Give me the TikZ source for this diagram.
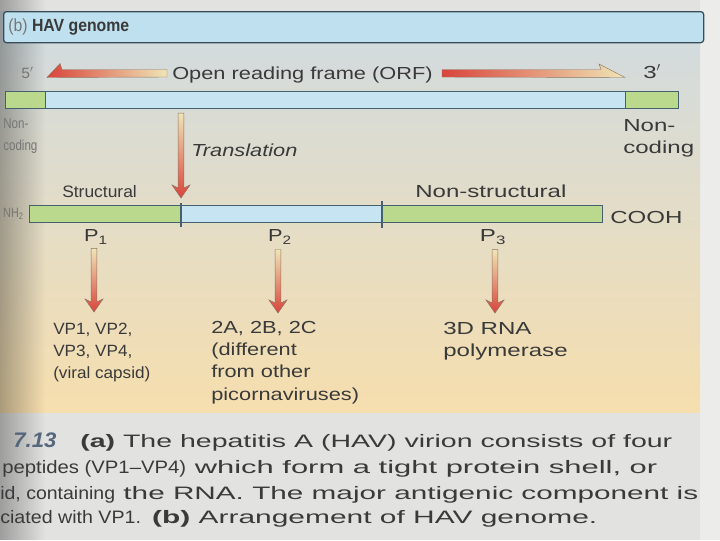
\documentclass[tikz,border=0pt]{standalone}
\usepackage{fontspec}
\setmainfont{Liberation Sans}[FakeStretch=1.25]
\newfontfamily\leftsf{Liberation Sans}[FakeStretch=1.05]
\newfontfamily\titlesf{Liberation Sans}[FakeStretch=0.9]
\newfontfamily\narrowsf{Liberation Sans}[FakeStretch=0.8]
\newfontfamily\widesf{Liberation Sans}[FakeStretch=1.38]
\newfontfamily\capsf{Liberation Sans}[FakeStretch=1.6]
\usetikzlibrary{positioning, calc, fadings}

\definecolor{pagegray}{HTML}{E2E3E1}
\definecolor{pagelight}{HTML}{ECEDEB}
\definecolor{panelblue}{HTML}{D0DBE1}
\definecolor{panelmid}{HTML}{DCDDD6}
\definecolor{panelpeach}{HTML}{F6DEAE}
\definecolor{headblue}{HTML}{BFE0EE}
\definecolor{barblue}{HTML}{C6E4F1}
\definecolor{bargreen}{HTML}{BAD98C}
\definecolor{barline}{HTML}{46606F}
\definecolor{arrred}{HTML}{D9443B}
\definecolor{arrpale}{HTML}{EFE5B5}
\definecolor{arrline}{HTML}{8C7462}
\definecolor{inkgray}{HTML}{3A3A3A}
\definecolor{softgray}{HTML}{767674}
\definecolor{figblue}{HTML}{56677C}

\newlength\pxu
\setlength\pxu{0.025cm}
\newcommand\mainsz{\fontsize{12.4}{15.8}\selectfont}
\newcommand\capsz{\fontsize{12.8}{18}\selectfont}
\newcommand\fitto[2]{\resizebox{#1\pxu}{\height}{#2}}
\newcommand\fatdown[2]{%
  \path (#1) coordinate (fat-a) (#2) coordinate (fat-b);
  \shadedraw[fatarrow] ($(fat-a)+(-2.8,0)$) -- ($(fat-a)+(2.8,0)$)
    -- ($(fat-a|-fat-b)+(2.8,-10)$) -- ($(fat-a|-fat-b)+(9,-13)$)
    -- (fat-a|-fat-b) -- ($(fat-a|-fat-b)+(-9,-13)$)
    -- ($(fat-a|-fat-b)+(-2.8,-10)$) -- cycle;}
\tikzfading[name=fade right, left color=transparent!0, right color=transparent!100]

\begin{document}
\begin{tikzpicture}[x=0.025cm, y=-0.025cm,
  seg/.style={rectangle, draw=barline, line width=0.6pt, minimum height=17\pxu, inner sep=0pt, outer sep=0pt, anchor=west},
  greenseg/.style={seg, fill=bargreen},
  blueseg/.style={seg, fill=barblue},
  lbl/.style={inner sep=0pt, text=inkgray, font=\mainsz, align=left},
  faint/.style={lbl, text=softgray},
  caption/.style={lbl, font=\capsf\capsz, anchor=base west},
  fatarrow/.style={top color=arrpale, bottom color=arrred, draw=arrline, line width=0.35pt},
  orfarrow/.style={left color=arrred, right color=arrpale, draw=arrline, line width=0.3pt},
  tick/.style={draw=barline, line width=0.8pt}
]
\useasboundingbox (0,0) rectangle (720,540);
% page and panel
\fill[pagegray] (0,0) rectangle (720,540);
\fill[pagelight] (700,0) rectangle (720,540);
\shade[top color=panelblue, middle color=panelmid, bottom color=panelpeach] (0,11) rectangle (700,412);
\fill[black, opacity=0.3, path fading=fade right] (0,0) rectangle (45,540);

\node[draw=barline!80!black, line width=0.9pt, rounded corners=2pt, fill=headblue, minimum width=700\pxu, minimum height=31\pxu, inner sep=0pt, anchor=north west] (head) at (3,11) {};
\node[lbl, font=\titlesf\fontsize{12.5}{14}\selectfont, anchor=base west] (title) at (8,31.5) {\textcolor{softgray}{(b)} \textbf{HAV genome}};

% genome
\node[greenseg, minimum width=40\pxu] (nc5) at (5,99.5) {};
\node[blueseg, minimum width=580\pxu] (orfbar) at (nc5.east) {};
\node[greenseg, minimum width=53\pxu] (nc3) at (orfbar.east) {};

\node[faint, font=\leftsf\fontsize{10.6}{12}\selectfont, anchor=base west] (five) at (21,78) {5$'$};
\node[lbl, anchor=base west] (orf) at (172,79.5) {Open reading frame (ORF)};
\node[lbl, font=\widesf\mainsz, anchor=base west] (three) at (643,78) {3$'$};

\coordinate (ltip) at ($(orf.base west -| nc5.east)+(2,-2)$);
\coordinate (rtip) at ($(orf.base east -| orfbar.east)+(0,-2)$);
\shadedraw[orfarrow] ($(orf.base west)+(-5,-10)$) -- ($(ltip)+(15,-8)$) -- ($(ltip)+(13,-14)$) -- (ltip) -- ($(orf.base west)+(-5,-2.5)$) -- cycle;
\shadedraw[orfarrow] ($(orf.base east)+(9,-10)$) -- ($(rtip)+(-24,-8)$) -- ($(rtip)+(-26,-13.5)$) -- (rtip) -- ($(orf.base east)+(9,-2.5)$) -- cycle;

\node[faint, font=\narrowsf\fontsize{10.3}{15.6}\selectfont, anchor=north west] (nc5lbl) at ($(nc5.south west)+(-2,10)$) {Non-\\coding};
\node[lbl, font=\widesf\mainsz, anchor=north west] (nc3lbl) at ($(nc3.south west)+(-2,11)$) {Non-\\coding};

% polyprotein
\node[greenseg, minimum width=152\pxu] (p1seg) at (29,213.5) {};
\node[blueseg, minimum width=201\pxu] (p2seg) at (p1seg.east) {};
\node[greenseg, minimum width=220\pxu] (p3seg) at (p2seg.east) {};
\draw[tick] ($(p1seg.north east)+(0,-2)$) -- ($(p1seg.south east)+(0,5)$);
\draw[tick] ($(p2seg.north east)+(0,-4)$) -- ($(p2seg.south east)+(0,6)$);

\fatdown{$(orfbar.south -| p1seg.east)+(0,5)$}{$(p1seg.north east)+(0,-7)$}
\node[lbl, font=\mainsz\itshape, anchor=base west] (transl) at ($(orfbar.south -| p1seg.east)+(10,48)$) {Translation};

\node[lbl, font=\leftsf\fontsize{11.8}{14}\selectfont, anchor=base west] (struct) at ($(p1seg.north west)+(33,-8)$) {Structural};
\node[lbl, font=\widesf\mainsz, anchor=base west] (nonstruct) at ($(p2seg.north east)+(33,-8)$) {Non-structural};
\node[faint, font=\narrowsf\fontsize{9.6}{11}\selectfont, anchor=base east] (nh2) at ($(p1seg.west)+(-5,3.5)$) {NH\textsubscript{2}};
\node[lbl, font=\widesf\mainsz, anchor=base west] (cooh) at ($(p3seg.east)+(8,9.5)$) {COOH};

\node[lbl, anchor=base] (pone) at ($(p1seg.south west)+(67,19.5)$) {P\textsubscript{1}};
\node[lbl, anchor=base] (ptwo) at ($(p2seg.south west)+(99,19.5)$) {P\textsubscript{2}};
\node[lbl, font=\widesf\mainsz, anchor=base] (pthree) at ($(p3seg.south west)+(111,19.5)$) {P\textsubscript{3}};

\node[lbl, font=\leftsf\fontsize{11.6}{15.6}\selectfont, anchor=north west] (vp) at (53,323) {VP1, VP2,\\VP3, VP4,\\(viral capsid)};
\node[lbl, anchor=north west] (twoabc) at (211,321) {2A, 2B, 2C\\(different\\from other\\picornaviruses)};
\node[lbl, font=\widesf\mainsz, anchor=north west] (rdrp) at (443,322) {3D RNA\\polymerase};

\fatdown{$(pone.south)+(-2,4)$}{$(vp.north)+(0,-11)$}
\fatdown{$(ptwo.south)+(-2,5)$}{$(twoabc.north)+(0,-8)$}
\fatdown{$(pthree.south)+(2,5)$}{$(rdrp.north)+(0,-9)$}

% caption
\node[lbl, font=\leftsf\fontsize{15}{18}\selectfont\bfseries\itshape, text=figblue, anchor=base west] (fignum) at (13,447) {7.13};
\node[caption] (cap1) at (80,447) {\fitto{592}{\textbf{(a)} The hepatitis A (HAV) virion consists of four}};
\node[caption] (cap2) at (2,473) {\fitto{655}{{\leftsf peptides (VP1–VP4)} which form a tight protein shell, or}};
\node[caption] (cap3) at (0,499) {\fitto{698}{{\leftsf id, containing} the RNA. The major antigenic component is}};
\node[caption] (cap4) at (0,523) {\fitto{597}{{\leftsf ciated with VP1.} \textbf{(b)} Arrangement of HAV genome.}};
\end{tikzpicture}
\end{document}
